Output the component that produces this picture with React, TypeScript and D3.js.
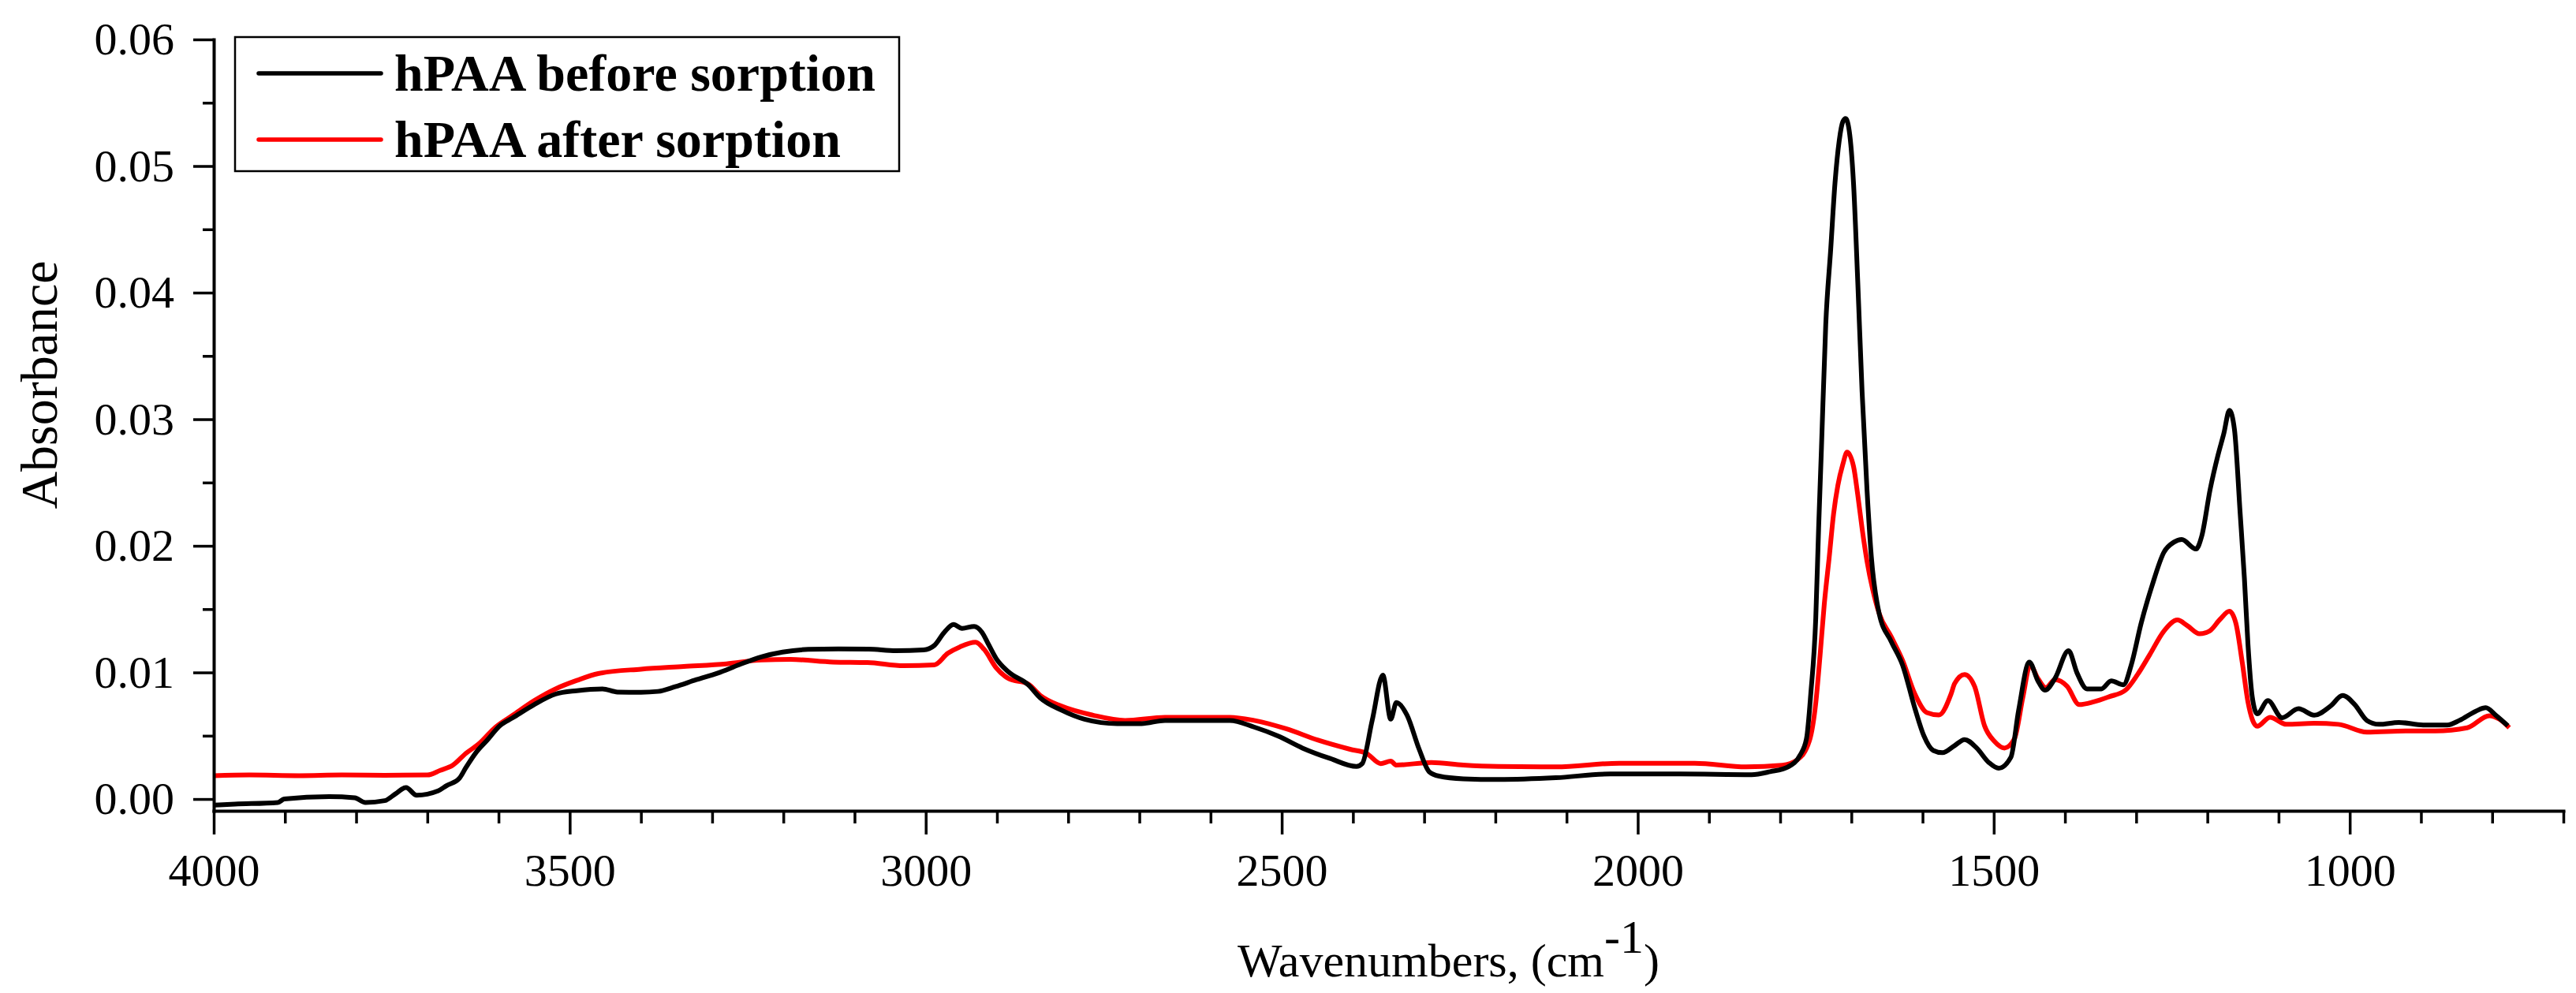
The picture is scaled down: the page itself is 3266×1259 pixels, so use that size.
import React, { useEffect, useRef } from 'react';
import * as d3 from 'd3';

// FTIR spectra, wavenumber (cm-1) and absorbance pairs
const wnBefore = [
  4000, 3970, 3910, 3901, 3838, 3802, 3787, 3760, 3745, 3730, 3715, 3685, 3673, 3655, 3646, 3631,
  3616, 3598, 3580, 3550, 3520, 3490, 3454, 3433, 3400, 3376, 3352, 3322, 3292, 3262, 3231, 3201,
  3165, 3123, 3080, 3042, 3003, 2988, 2974, 2961, 2949, 2932, 2921, 2912, 2901, 2884, 2856, 2839,
  2810, 2777, 2731, 2697, 2664, 2618, 2573, 2539, 2505, 2471, 2432, 2395, 2387, 2373, 2358, 2347,
  2339, 2324, 2307, 2293, 2279, 2245, 2196, 2115, 2039, 1941, 1840, 1814, 1789, 1772, 1763, 1757,
  1750, 1746, 1742, 1736, 1729, 1723, 1717, 1712, 1708, 1703, 1697, 1691, 1685, 1678, 1672, 1661,
  1644, 1628, 1611, 1598, 1585, 1572, 1555, 1541, 1524, 1507, 1493, 1476, 1465, 1450, 1438, 1428,
  1414, 1395, 1383, 1369, 1349, 1335, 1318, 1307, 1293, 1278, 1261, 1247, 1236, 1216, 1208, 1196,
  1185, 1177, 1169, 1162, 1154, 1148, 1143, 1137, 1130, 1115, 1095, 1072, 1050, 1027, 1010, 993,
  976, 959, 931, 897, 863, 846, 823, 809, 795, 778,
];
const absBefore = [
  -0.00048, -0.0004, -0.00027, 0.0, 0.00019, 0.0001, -0.00027, -0.00013, 0.0004, 0.00091, 0.0003,
  0.00064, 0.00106, 0.00164, 0.00247, 0.00372, 0.00465, 0.0058, 0.00642, 0.00746, 0.00829, 0.00856,
  0.0087, 0.00845, 0.00843, 0.0085, 0.00887, 0.00943, 0.00995, 0.01061, 0.01123, 0.01161, 0.01182,
  0.01186, 0.01184, 0.01172, 0.01178, 0.01213, 0.01317, 0.01379, 0.01348, 0.01364, 0.01317, 0.01223,
  0.01109, 0.01005, 0.00902, 0.00798, 0.00704, 0.00631, 0.00596, 0.00596, 0.00621, 0.00621, 0.00621,
  0.00569, 0.00497, 0.00403, 0.0032, 0.00257, 0.0028, 0.00621, 0.00978, 0.00631, 0.00762, 0.00662,
  0.00393, 0.00216, 0.00181, 0.0016, 0.00154, 0.00168, 0.00198, 0.00198, 0.00192, 0.00216, 0.00254,
  0.00347, 0.00478, 0.00832, 0.0143, 0.0214, 0.02775, 0.03746, 0.04344, 0.04866, 0.05203, 0.0535,
  0.05375, 0.05278, 0.04866, 0.04082, 0.03223, 0.02439, 0.01916, 0.01467, 0.01244, 0.01057, 0.0072,
  0.00497, 0.00384, 0.00366, 0.00422, 0.0047, 0.00403, 0.00289, 0.00243, 0.0033, 0.00704, 0.01082,
  0.00933, 0.0086, 0.00953, 0.01171, 0.00995, 0.0087, 0.0087, 0.00933, 0.00902, 0.01057, 0.01389,
  0.0168, 0.0195, 0.02029, 0.0205, 0.01975, 0.02075, 0.02449, 0.02718, 0.02885, 0.0307, 0.0292,
  0.0226, 0.01743, 0.01223, 0.00808, 0.00673, 0.00777, 0.00642, 0.00714, 0.00662, 0.00735, 0.00818,
  0.00746, 0.00621, 0.0059, 0.00605, 0.00585, 0.00585, 0.00621, 0.00694, 0.00721, 0.00662, 0.00579,
];

const wnAfter = [
  4000, 3950, 3880, 3820, 3760, 3700, 3682, 3664, 3646, 3628, 3604, 3580, 3550, 3520, 3490, 3460,
  3400, 3340, 3280, 3231, 3190, 3130, 3082, 3031, 2988, 2969, 2952, 2930, 2918, 2901, 2884, 2856,
  2839, 2810, 2765, 2720, 2664, 2573, 2539, 2494, 2449, 2404, 2381, 2361, 2347, 2339, 2290, 2245,
  2196, 2115, 2026, 1920, 1848, 1797, 1776, 1759, 1750, 1744, 1738, 1731, 1725, 1719, 1712, 1706,
  1697, 1691, 1685, 1678, 1670, 1661, 1644, 1628, 1611, 1594, 1577, 1560, 1555, 1541, 1527, 1513,
  1499, 1485, 1471, 1459, 1449, 1438, 1427, 1414, 1397, 1380, 1360, 1338, 1315, 1298, 1281, 1261,
  1242, 1228, 1211, 1197, 1182, 1169, 1160, 1151, 1143, 1130, 1112, 1089, 1050, 1016, 976, 920,
  880, 835, 804, 790, 776,
];
const absAfter = [
  0.00185, 0.0019, 0.00185, 0.0019, 0.00188, 0.0019, 0.00226, 0.00268, 0.0036, 0.00434, 0.00569,
  0.00662, 0.00777, 0.0087, 0.00937, 0.00991, 0.01026, 0.01047, 0.01068, 0.01098, 0.01103, 0.01082,
  0.01078, 0.01053, 0.0106, 0.01151, 0.01202, 0.01238, 0.01182, 0.01036, 0.00953, 0.00908, 0.00818,
  0.00735, 0.00662, 0.00621, 0.00646, 0.00646, 0.00621, 0.00555, 0.00465, 0.00393, 0.00361, 0.0028,
  0.00299, 0.00268, 0.00289, 0.00268, 0.00257, 0.00254, 0.00283, 0.00283, 0.00254, 0.00267, 0.0031,
  0.00459, 0.00758, 0.01131, 0.01542, 0.01916, 0.02252, 0.02476, 0.02644, 0.0274, 0.02628, 0.02401,
  0.0214, 0.01878, 0.01654, 0.01467, 0.01281, 0.01094, 0.00832, 0.00683, 0.00664, 0.0083, 0.00912,
  0.00984, 0.00891, 0.00579, 0.00455, 0.00403, 0.00476, 0.00808, 0.01057, 0.00953, 0.0088, 0.00943,
  0.00891, 0.00746, 0.00767, 0.00808, 0.0086, 0.00984, 0.0114, 0.01327, 0.01414, 0.01369, 0.01306,
  0.01327, 0.01421, 0.01483, 0.01389, 0.01078, 0.00767, 0.00575, 0.00646, 0.0059, 0.00598, 0.0059,
  0.00528, 0.00538, 0.00538, 0.00563, 0.00658, 0.00631, 0.00563,
];

const seriesNames = ['hPAA before sorption', 'hPAA after sorption'];
const seriesColors = ['#000000', '#ff0000'];
const xMajorTicks = [4000, 3500, 3000, 2500, 2000, 1500, 1000];
const yMajorTicks = [0, 0.01, 0.02, 0.03, 0.04, 0.05, 0.06];

const FONT = "'Times New Roman', 'Liberation Serif', serif";

const SpectraChart = () => {
  const svgRef = useRef(null);

  useEffect(() => {
    const svg = d3.select(svgRef.current);
    svg.selectAll('*').remove();

    const left = 271;
    const right = 3250;
    const top = 50;
    const bottom = 1028;

    const x = d3.scaleLinear().domain([4000, 700]).range([left, right]);
    const y = d3.scaleLinear().domain([-0.00093, 0.06]).range([bottom, top]);

    const xMinor = d3.range(700, 4001, 100).filter((d) => d % 500 !== 0);
    const yMinor = d3.range(0.005, 0.06, 0.01);

    const series = [
      { name: seriesNames[0], color: seriesColors[0], values: wnBefore.map((w, i) => [w, absBefore[i]]) },
      { name: seriesNames[1], color: seriesColors[1], values: wnAfter.map((w, i) => [w, absAfter[i]]) },
    ];

    const line = d3
      .line()
      .x((d) => x(d[0]))
      .y((d) => y(d[1]))
      .curve(d3.curveMonotoneX);

    // red first so the black trace sits on top
    svg
      .append('g')
      .selectAll('path')
      .data([series[1], series[0]])
      .enter()
      .append('path')
      .attr('d', (d) => line(d.values))
      .attr('fill', 'none')
      .attr('stroke', (d) => d.color)
      .attr('stroke-width', 6)
      .attr('stroke-linejoin', 'round');

    // x axis: minor ticks, then labelled major ticks
    svg
      .append('g')
      .attr('transform', `translate(0,${bottom})`)
      .call(d3.axisBottom(x).tickValues(xMinor).tickSize(16).tickFormat(() => ''))
      .call((g) => g.select('.domain').remove());

    const xAxis = svg
      .append('g')
      .attr('transform', `translate(0,${bottom})`)
      .call(
        d3
          .axisBottom(x)
          .tickValues(xMajorTicks)
          .tickSize(30)
          .tickSizeOuter(0)
          .tickPadding(24)
          .tickFormat(d3.format('d')),
      );

    // y axis
    svg
      .append('g')
      .attr('transform', `translate(${left},0)`)
      .call(d3.axisLeft(y).tickValues(yMinor).tickSize(14).tickFormat(() => ''))
      .call((g) => g.select('.domain').remove());

    const yAxis = svg
      .append('g')
      .attr('transform', `translate(${left},0)`)
      .call(
        d3
          .axisLeft(y)
          .tickValues(yMajorTicks)
          .tickSize(26)
          .tickSizeOuter(0)
          .tickPadding(24)
          .tickFormat(d3.format('.2f')),
      );

    svg.selectAll('.tick line').attr('stroke', '#000').attr('stroke-width', 3.5);
    svg.selectAll('.domain').attr('stroke', '#000').attr('stroke-width', 4).attr('stroke-linecap', 'square');
    [xAxis, yAxis].forEach((g) =>
      g.selectAll('text').attr('font-family', FONT).attr('font-size', 58).attr('fill', '#000'),
    );

    // axis titles
    svg
      .append('text')
      .attr('transform', 'translate(72,488) rotate(-90)')
      .attr('text-anchor', 'middle')
      .attr('font-family', FONT)
      .attr('font-size', 66)
      .text('Absorbance');

    const xTitle = svg
      .append('text')
      .attr('x', 1569)
      .attr('y', 1238)
      .attr('font-family', FONT)
      .attr('font-size', 60);
    xTitle.append('tspan').text('Wavenumbers, (cm');
    xTitle.append('tspan').attr('dy', -30).text('-1');
    xTitle.append('tspan').attr('dy', 30).text(')');

    // legend
    const legend = svg.append('g');
    legend
      .append('rect')
      .attr('x', 298)
      .attr('y', 47)
      .attr('width', 842)
      .attr('height', 170)
      .attr('fill', '#fff')
      .attr('stroke', '#000')
      .attr('stroke-width', 2.5);

    const rows = legend
      .selectAll('g.row')
      .data(series)
      .enter()
      .append('g')
      .attr('class', 'row')
      .attr('transform', (d, i) => `translate(0,${93 + i * 84})`);

    rows
      .append('line')
      .attr('x1', 328)
      .attr('x2', 483)
      .attr('stroke', (d) => d.color)
      .attr('stroke-width', 5.5)
      .attr('stroke-linecap', 'round');

    rows
      .append('text')
      .attr('x', 500)
      .attr('y', 22)
      .attr('font-family', FONT)
      .attr('font-size', 66)
      .attr('font-weight', 'bold')
      .text((d) => d.name);
  }, []);

  return (
    <svg
      ref={svgRef}
      width={3266}
      height={1259}
      style={{ position: 'absolute', left: 0, top: 0, background: '#fff', display: 'block' }}
    ></svg>
  );
};

export default function App() {
  return <SpectraChart />;
}
